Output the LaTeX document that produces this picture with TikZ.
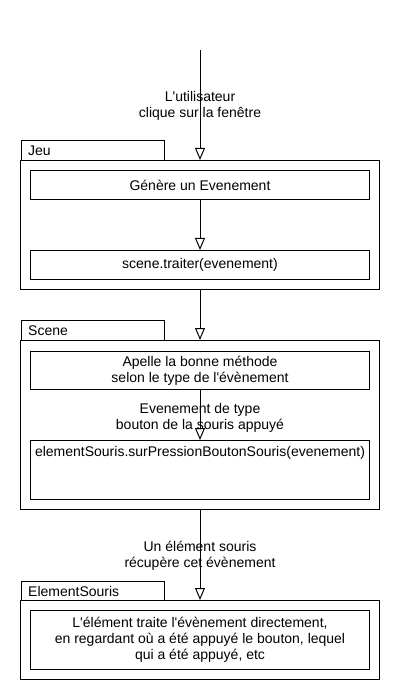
\documentclass[tikz,border=0pt]{standalone}
\usepackage{fontspec}
\setmainfont{Liberation Sans}[Ligatures=TeXOff]
\usetikzlibrary{arrows.meta}

\begin{document}
\begin{tikzpicture}[x=1pt, y=-1pt, line width=1pt,
    every node/.style={font=\fontsize{14}{16}\selectfont, inner sep=0pt},
    tabbox/.style={draw,rectangle,anchor=north west,minimum width=143.3pt,minimum height=20pt,text width=129.3pt,align=left},
    groupbox/.style={draw,rectangle,anchor=north,minimum width=359.3pt},
    stepbox/.style={draw,rectangle,anchor=north,minimum width=339pt,align=center},
    flow/.style={-{Triangle[open,width=10pt,length=12pt]}}]
    \useasboundingbox[fill=white] (0,0) rectangle (400,700);

    % Groups
    \node[tabbox] (jeutab) at (20.7,140) {Jeu};
    \node[groupbox,minimum height=129pt] (jeu) at (200,160) {};
    \node[tabbox] (scenetab) at (20.7,320) {Scene};
    \node[groupbox,minimum height=169pt] (scene) at (200,340) {};
    \node[tabbox,minimum height=19pt] (elemtab) at (20.7,581) {ElementSouris};
    \node[groupbox,minimum height=79pt] (elem) at (200,600) {};

    % Boxes
    \node[stepbox,minimum height=29pt] (genere) at (200,170) {Génère un Evenement};
    \node[stepbox,minimum height=29pt] (traiter) at (200,250) {scene.traiter(evenement)};
    \node[stepbox,minimum height=38pt] (methode) at (200,351) {Apelle la bonne méthode\\selon le type de l'évènement};
    \node[stepbox,minimum height=59pt,inner ysep=4pt,text height=12pt,text depth=39pt] (pression) at (200,440) {elementSouris.surPressionBoutonSouris(evenement)};
    \node[stepbox,minimum height=59pt] (traite) at (200,610) {L'élément traite l'évènement directement,\\en regardant où a été appuyé le bouton, lequel\\qui a été appuyé, etc};

    % Connections
    \coordinate (start) at (200,50);
    \draw[flow] (start) -- (jeu.north);
    \draw[flow] (genere) -- (traiter);
    \draw[flow] (jeu) -- (scene);
    \draw[flow] (methode) -- (pression);
    \draw[flow] (scene) -- (elem);

    % Labels
    \node[align=center] (clic) at (200,106) {L'utilisateur\\clique sur la fenêtre};
    \node[align=center] (type) at (200,418) {Evenement de type\\bouton de la souris appuyé};
    \node[align=center] (recup) at (200,556) {Un élément souris\\récupère cet évènement};
\end{tikzpicture}
\end{document}
